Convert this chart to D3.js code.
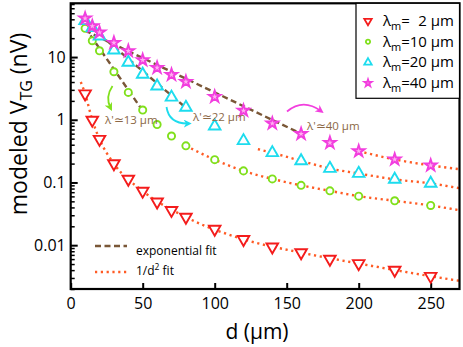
<!DOCTYPE html>
<html>
<head>
<meta charset="utf-8">
<script src="https://cdn.jsdelivr.net/npm/d3@7"></script>
<style>
  body { margin: 0; background: #fff; }
  svg { display: block; font-family: "Open Sans", sans-serif; }
</style>
</head>
<body>
<svg id="chart" width="463" height="347"></svg>
<script>
// distances d (um) where the model was evaluated
var dist = [10, 15, 20, 30, 40, 50, 60, 70, 80, 100, 120, 140, 160, 180, 200, 225, 250];

// modeled V_TG (nV) for each lambda_m
var vLam2  = [2.6, 0.99, 0.49, 0.20, 0.113, 0.073, 0.049, 0.036, 0.028, 0.018, 0.0124, 0.0094, 0.0076, 0.0060, 0.0051, 0.0040, 0.0032];
var vLam10 = [28.7, 18.2, 12.6, 5.83, 2.73, 1.43, 0.84, 0.55, 0.384, 0.231, 0.153, 0.114, 0.090, 0.0735, 0.0605, 0.051, 0.043];
var vLam20 = [37.9, 29.3, 21.6, 12.9, 8.23, 5.30, 3.44, 2.28, 1.57, 0.79, 0.462, 0.297, 0.221, 0.167, 0.139, 0.112, 0.0966];
var vLam40 = [41.4, 31.2, 24.8, 16.9, 12.5, 8.96, 6.75, 5.22, 4.04, 2.33, 1.40, 0.875, 0.596, 0.430, 0.316, 0.233, 0.187];

var seriesNames = ["\u20072", "10", "20", "40"];

// exponential fits (straight on a log axis): end points
var expFitD = [[10, 50.5], [10, 80.5], [10, 160]];
var expFitV = [[29.5, 1.34], [36, 1.52], [26.5, 0.6]];
var expLabels = ["\u03bb'\u224313 \u03bcm", "\u03bb'\u224322 \u03bcm", "\u03bb'\u224340 \u03bcm"];

// 1/d^2 fits: nodes
var sqFitD = [
  [7, 10, 15, 20, 30, 50, 80, 120, 160, 200, 250, 270],
  [80, 100, 120, 140, 160, 180, 200, 225, 250, 270],
  [130, 140, 160, 180, 200, 225, 250, 270],
  [200, 225, 250, 270]
];
var sqFitV = [
  [4.0, 2.6, 0.99, 0.49, 0.20, 0.073, 0.028, 0.0124, 0.0076, 0.0051, 0.0032, 0.00270],
  [0.384, 0.231, 0.153, 0.114, 0.090, 0.0735, 0.0605, 0.051, 0.043, 0.036],
  [0.34, 0.297, 0.221, 0.167, 0.139, 0.112, 0.0966, 0.081],
  [0.316, 0.233, 0.187, 0.163]
];

var xTicks = [0, 50, 100, 150, 200, 250];
var yTicks = [0.01, 0.1, 1, 10];
var yTickLabels = ["0.01", "0.1", "1", "10"];

var colors = ["#f41c1c", "#80e01c", "#1ddcee", "#f23ede"];
var brown = "#7a5737";
var orange = "#ff5b24";
var noteColor = "#8c6846";

var svg = d3.select("#chart");
var pL = 70.7, pR = 459.5, pT = 3.3, pB = 289;

var x = d3.scaleLinear().domain([0, 270]).range([pL, pR]);
var y = d3.scaleLog().domain([0.002, 72]).range([pB, pT]);

var defs = svg.append("defs");
defs.append("clipPath").attr("id", "plotclip")
  .append("rect").attr("x", pL).attr("y", pT)
  .attr("width", pR - pL).attr("height", pB - pT);

// minor y ticks
var minor = [];
[0.001, 0.01, 0.1, 1, 10].forEach(function (dec) {
  for (var k = 2; k <= 9; k++) {
    var v = dec * k;
    if (v >= 0.002 && v <= 72) minor.push(v);
  }
});

svg.append("g")
  .attr("transform", "translate(" + pL + ",0)")
  .call(d3.axisLeft(y).tickValues(minor).tickSize(-4).tickFormat(""))
  .call(function (g) { g.select(".domain").remove(); })
  .selectAll("line").attr("stroke", "#000").attr("stroke-width", 1.5);

var yAxis = svg.append("g")
  .attr("transform", "translate(" + pL + ",0)")
  .call(d3.axisLeft(y).tickValues(yTicks).tickSize(-7).tickPadding(5)
    .tickFormat(function (d, i) { return yTickLabels[i]; }));
yAxis.select(".domain").remove();
yAxis.selectAll("line").attr("stroke", "#000").attr("stroke-width", 2);
yAxis.selectAll("text").attr("font-size", 16).attr("fill", "#000")
  .attr("font-family", "Open Sans, sans-serif");

var xAxis = svg.append("g")
  .attr("transform", "translate(0," + pB + ")")
  .call(d3.axisBottom(x).tickValues(xTicks).tickSize(-6).tickPadding(9));
xAxis.select(".domain").remove();
xAxis.selectAll("line").attr("stroke", "#000").attr("stroke-width", 2);
xAxis.selectAll("text").attr("font-size", 16).attr("fill", "#000")
  .attr("font-family", "Open Sans, sans-serif");

// fits
var plot = svg.append("g").attr("clip-path", "url(#plotclip)");

var fitLine = d3.line()
  .x(function (p) { return x(p[0]); })
  .y(function (p) { return y(p[1]); });

sqFitD.forEach(function (ds, i) {
  var pts = ds.map(function (d, j) { return [d, sqFitV[i][j]]; });
  plot.append("path")
    .attr("d", fitLine.curve(d3.curveMonotoneX)(pts))
    .attr("fill", "none")
    .attr("stroke", orange)
    .attr("stroke-width", 2.4)
    .attr("stroke-dasharray", "2.2,3.6");
});

expFitD.forEach(function (ds, i) {
  var pts = ds.map(function (d, j) { return [d, expFitV[i][j]]; });
  plot.append("path")
    .attr("d", fitLine.curve(d3.curveLinear)(pts))
    .attr("fill", "none")
    .attr("stroke", brown)
    .attr("stroke-width", 2.4)
    .attr("stroke-dasharray", "6,3.5");
});

// markers
var allSeries = [vLam2, vLam10, vLam20, vLam40];
var symTypes = [d3.symbolTriangle, d3.symbolCircle, d3.symbolTriangle, d3.symbolStar];
var symSizes = [58, 40, 58, 42];
var symRot = [180, 0, 0, 0];
var symFill = ["#fff", "#fff", "#fff", "#ffb0f0"];

allSeries.forEach(function (vals, i) {
  var sym = d3.symbol().type(symTypes[i]).size(symSizes[i]);
  plot.append("g").selectAll("path")
    .data(dist.map(function (d, j) { return [d, vals[j]]; }))
    .enter().append("path")
    .attr("d", sym)
    .attr("transform", function (p) {
      return "translate(" + x(p[0]) + "," + y(p[1]) + ") rotate(" + symRot[i] + ")";
    })
    .attr("fill", symFill[i])
    .attr("stroke", colors[i])
    .attr("stroke-width", 1.9);
});

// annotations
var notePos = [[105, 123.5], [193, 121], [307, 130]];
expLabels.forEach(function (t, i) {
  svg.append("text")
    .attr("x", notePos[i][0]).attr("y", notePos[i][1])
    .attr("font-size", 11.5)
    .attr("fill", noteColor)
    .text(t);
});

[1, 2, 3].forEach(function (i) {
  defs.append("marker")
    .attr("id", "arrow" + i)
    .attr("viewBox", "0 0 10 10")
    .attr("refX", 6).attr("refY", 5)
    .attr("markerWidth", 4.5).attr("markerHeight", 4.5)
    .attr("orient", "auto")
    .append("path").attr("d", "M0,0 L10,5 L0,10 L3,5 Z")
    .attr("fill", colors[i]);
});
var arrows = [
  "M112.5,86 Q105,97 110.5,108",
  "M166.5,107 Q169,124 188.5,123.5",
  "M287,111.5 Q303,98 321,111"
];
arrows.forEach(function (a, i) {
  svg.append("path")
    .attr("d", a)
    .attr("fill", "none")
    .attr("stroke", colors[i + 1])
    .attr("stroke-width", 1.8)
    .attr("marker-end", "url(#arrow" + (i + 1) + ")");
});

// frame
svg.append("rect")
  .attr("x", pL).attr("y", pT)
  .attr("width", pR - pL).attr("height", pB - pT)
  .attr("fill", "none").attr("stroke", "#000").attr("stroke-width", 2.2);

// legend (top right)
var lg = svg.append("g");
lg.append("rect")
  .attr("x", 356).attr("y", pT)
  .attr("width", pR - 356).attr("height", 95)
  .attr("fill", "#fff").attr("stroke", "#000").attr("stroke-width", 1.2);
var legSizes = [24, 14, 24, 16];
seriesNames.forEach(function (nm, i) {
  var cy = 21 + i * 20.7;
  lg.append("path")
    .attr("d", d3.symbol().type(symTypes[i]).size(legSizes[i])())
    .attr("transform", "translate(368," + cy + ") rotate(" + symRot[i] + ")")
    .attr("fill", symFill[i])
    .attr("stroke", colors[i])
    .attr("stroke-width", 1.8);
  var t = lg.append("text")
    .attr("x", 383).attr("y", cy + 5)
    .attr("font-size", 15).attr("fill", "#000");
  t.append("tspan").text("\u03bb");
  t.append("tspan").attr("font-size", 11).attr("dy", 4).text("m");
  t.append("tspan").attr("dy", -4).text("=" + nm + " \u03bcm");
});

// legend (fits)
var fitKeys = [["exponential fit", brown, "6,3.5"], ["1/d", orange, "2.2,3.6"]];
fitKeys.forEach(function (k, i) {
  var ly = 246 + i * 26;
  svg.append("line")
    .attr("x1", 95).attr("x2", 127).attr("y1", ly).attr("y2", ly)
    .attr("stroke", k[1]).attr("stroke-width", 2.4)
    .attr("stroke-dasharray", k[2]);
  var t = svg.append("text")
    .attr("x", 136).attr("y", ly + 9 - i * 6)
    .attr("font-size", 12).attr("fill", "#000");
  t.append("tspan").text(k[0]);
  if (i === 1) {
    t.append("tspan").attr("font-size", 8.5).attr("dy", -5).text("2");
    t.append("tspan").attr("dy", 5).text(" fit");
  }
});

// axis titles
svg.append("text")
  .attr("x", 257).attr("y", 339)
  .attr("text-anchor", "middle")
  .attr("font-size", 21).attr("fill", "#000")
  .text("d (\u03bcm)");

var yt = svg.append("text")
  .attr("transform", "translate(27,124) rotate(-90)")
  .attr("text-anchor", "middle")
  .attr("font-size", 23).attr("fill", "#000");
yt.append("tspan").text("modeled V");
yt.append("tspan").attr("font-size", 16).attr("dy", 5).text("TG");
yt.append("tspan").attr("dy", -5).text(" (nV)");
</script>
</body>
</html>
